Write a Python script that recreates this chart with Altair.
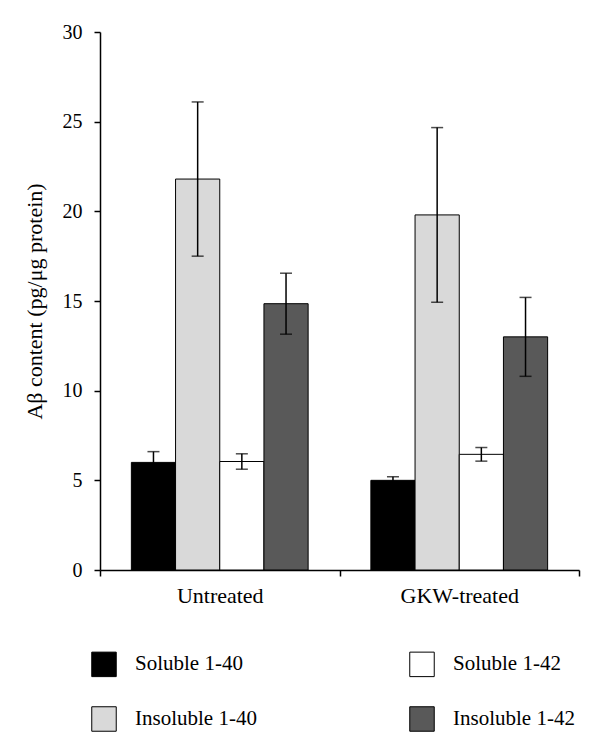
import altair as alt
import pandas as pd

groups = ["Untreated", "GKW-treated"]
series = ["Soluble 1-40", "Insoluble 1-40", "Soluble 1-42", "Insoluble 1-42"]
untreated_mean = [6.0, 21.8, 6.05, 14.85]
untreated_err = [0.6, 4.3, 0.43, 1.7]
gkw_mean = [5.0, 19.8, 6.45, 13.0]
gkw_err = [0.2, 4.87, 0.38, 2.2]
series_colors = ["#000000", "#d9d9d9", "#ffffff", "#595959"]
y_ticks = [0, 5, 10, 15, 20, 25, 30]

rows = []
for g, means, errs in [(groups[0], untreated_mean, untreated_err), (groups[1], gkw_mean, gkw_err)]:
    for s, mv, ev in zip(series, means, errs):
        rows.append({"group": g, "series": s, "mean": mv, "lo": mv - ev, "hi": mv + ev})
df = pd.DataFrame(rows)

FONT = "Liberation Serif"

x_enc = alt.X(
    "group:N",
    sort=groups,
    scale=alt.Scale(paddingInner=0, paddingOuter=0),
    axis=alt.Axis(
        title=None, labelAngle=0, tickBand="extent", tickSize=6,
        labelPadding=9, labelFontSize=22,
    ),
)
xo_enc = alt.XOffset("series:N", sort=series, scale=alt.Scale(paddingInner=0, paddingOuter=0.71))
y_scale = alt.Scale(domain=[0, 30], nice=False)

bars = alt.Chart(df).mark_bar(stroke="black", strokeWidth=1).encode(
    x=x_enc,
    xOffset=xo_enc,
    y=alt.Y(
        "mean:Q",
        scale=y_scale,
        axis=alt.Axis(
            title="Aβ content (pg/μg protein)", values=y_ticks, tickSize=6,
            labelFontSize=20, titleFontSize=22, titleFontWeight="normal",
            titlePadding=16, labelPadding=12,
        ),
    ),
    color=alt.Color(
        "series:N",
        scale=alt.Scale(domain=series, range=series_colors),
        legend=alt.Legend(
            title=None, orient="none", legendX=-9, legendY=619, columns=2,
            symbolType="square", symbolSize=600, symbolStrokeColor="black",
            symbolStrokeWidth=1, symbolOpacity=1, labelFont=FONT, labelFontSize=21,
            labelOffset=18, rowPadding=25, columnPadding=150, labelColor="black",
        ),
    ),
)

rules = alt.Chart(df).mark_rule(color="black", strokeWidth=1.5).encode(
    x=alt.X("group:N", sort=groups),
    xOffset=alt.XOffset("series:N", sort=series),
    y=alt.Y("lo:Q", scale=y_scale),
    y2="hi:Q",
)

caps = alt.Chart(df).transform_fold(["lo", "hi"], as_=["end", "val"]).mark_tick(
    color="black", thickness=1.5, size=12, orient="horizontal"
).encode(
    x=alt.X("group:N", sort=groups),
    xOffset=alt.XOffset("series:N", sort=series),
    y=alt.Y("val:Q", scale=y_scale),
)

chart = alt.layer(bars, rules, caps).properties(
    width=479,
    height=538,
    autosize="none",
    padding={"left": 92, "top": 24, "right": 13, "bottom": 170},
).configure_view(stroke=None).configure_axis(
    grid=False, domainColor="black", tickColor="black", labelColor="black",
    titleColor="black", labelFont=FONT, titleFont=FONT, domainWidth=1.5, tickWidth=1.5,
).configure_axisY(
    titleFontWeight="normal",
)

chart.save("out.html", embed_options={"renderer": "svg", "actions": False})
